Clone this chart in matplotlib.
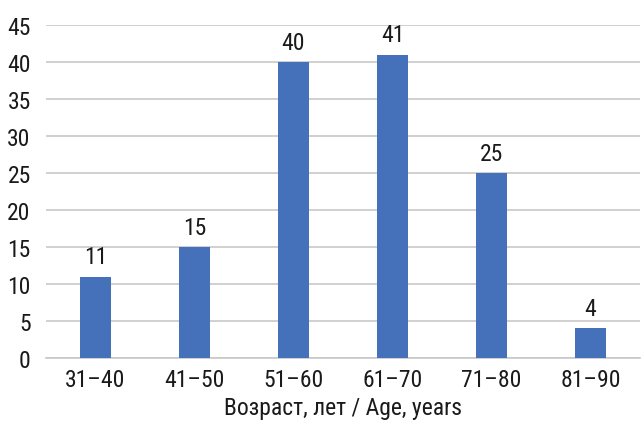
import matplotlib
matplotlib.use("Agg")
import matplotlib.pyplot as plt

age_groups = ["31–40", "41–50", "51–60", "61–70", "71–80", "81–90"]
counts = [11, 15, 40, 41, 25, 4]
y_ticks = [0, 5, 10, 15, 20, 25, 30, 35, 40, 45]

plt.rcParams["font.family"] = ["Roboto Condensed", "DejaVu Sans"]
text_color = "#1a1a1a"

fig = plt.figure(figsize=(6.44, 4.27), dpi=100)
ax = fig.add_axes([0.0714, 0.1593, 0.9224, 0.7798])

x = list(range(len(age_groups)))
ax.bar(x, counts, width=0.31, color="#4571BA", zorder=3)
for xi, v in zip(x, counts):
    ax.annotate(str(v), (xi, v), xytext=(0, 6), textcoords="offset points",
                ha="center", va="bottom", fontsize=17, color=text_color)

ax.set_xlim(-0.5, len(age_groups) - 0.5)
ax.set_ylim(0, 45)
ax.set_yticks(y_ticks)
ax.set_xticks(x)
ax.set_xticklabels(age_groups)
ax.tick_params(axis="both", length=0, labelsize=17, colors=text_color)
ax.tick_params(axis="y", pad=11)
ax.tick_params(axis="x", pad=7)
ax.yaxis.grid(True, color="#c8c8c8", linewidth=1.2, zorder=0)
for s in ["top", "right", "left"]:
    ax.spines[s].set_visible(False)
ax.spines["bottom"].set_color("#c8c8c8")
ax.spines["bottom"].set_linewidth(1.2)
ax.set_xlabel("Возраст, лет / Age, years", fontsize=17, color=text_color, labelpad=4)

fig.savefig("out.png", dpi=100)
